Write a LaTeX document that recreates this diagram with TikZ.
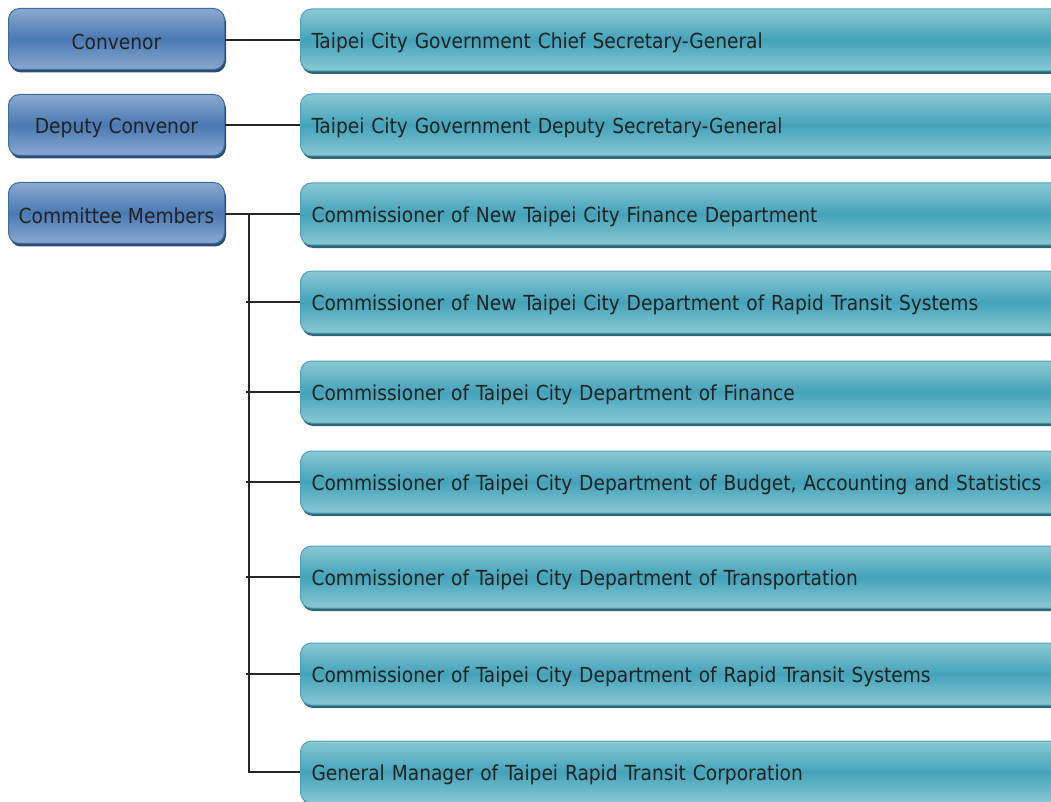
\documentclass[tikz,border=0pt]{standalone}
\usepackage{fontspec}
\setmainfont{DejaVu Sans Condensed}
\usetikzlibrary{shadows}
\definecolor{blueTop}{HTML}{8BA9D0}
\definecolor{blueMid}{HTML}{4A79B3}
\definecolor{blueBorder}{HTML}{3D6CA6}
\definecolor{blueShadow}{HTML}{2C4C74}
\definecolor{tealTop}{HTML}{8AC8D5}
\definecolor{tealMid}{HTML}{44A3B9}
\definecolor{tealBorder}{HTML}{4DA3B7}
\definecolor{tealShadow}{HTML}{2F6676}
\definecolor{txt}{HTML}{222222}
\tikzset{
  leftbox/.style={rounded corners=11pt, draw=blueBorder, line width=1pt,
    top color=blueTop, bottom color=blueTop, middle color=blueMid,
    minimum width=216pt, minimum height=61pt, inner sep=0pt,
    font=\fontsize{20.7}{22}\selectfont, text=txt,
    drop shadow={shadow xshift=1.5pt, shadow yshift=-3pt, fill=blueShadow, opacity=1}},
  rightbox/.style={rounded corners=11pt, draw=tealBorder, line width=1pt,
    top color=tealTop, bottom color=tealTop, middle color=tealMid,
    text width=760pt, inner xsep=11pt, inner ysep=0pt, align=left,
    minimum height=62pt, anchor=west,
    font=\fontsize{20.7}{22}\selectfont, text=txt,
    drop shadow={shadow xshift=1.5pt, shadow yshift=-3pt, fill=tealShadow, opacity=1}},
  link/.style={draw=black!85, line width=1.2pt}
}
\newcommand{\dn}[1]{\raisebox{-3pt}[\height][\depth]{#1}}
\begin{document}
\begin{tikzpicture}[x=1pt,y=-1pt]
\useasboundingbox (0,0) rectangle (1051,802);
\node[leftbox] (conv) at (116.5,39) {\dn{Convenor}};
\node[leftbox] (dep) at (116.5,125) {\dn{Deputy Convenor}};
\node[leftbox] (cm) at (116.5,213) {\dn{Committee Members}};
\node[rightbox] (r1) at (300,40) {\dn{Taipei City Government Chief Secretary-General}};
\node[rightbox] (r2) at (300,125) {\dn{Taipei City Government Deputy Secretary-General}};
\node[rightbox] (r3) at (300,214) {\dn{Commissioner of New Taipei City Finance Department}};
\node[rightbox] (r4) at (300,302) {\dn{Commissioner of New Taipei City Department of Rapid Transit Systems}};
\node[rightbox] (r5) at (300,392) {\dn{Commissioner of Taipei City Department of Finance}};
\node[rightbox] (r6) at (300,482) {\dn{Commissioner of Taipei City Department of Budget, Accounting and Statistics}};
\node[rightbox] (r7) at (300,577) {\dn{Commissioner of Taipei City Department of Transportation}};
\node[rightbox] (r8) at (300,674) {\dn{Commissioner of Taipei City Department of Rapid Transit Systems}};
\node[rightbox] (r9) at (300,772) {\dn{General Manager of Taipei Rapid Transit Corporation}};
\coordinate (j) at (249,214);
\draw[link] (conv.east |- r1.west) -- (r1.west);
\draw[link] (dep.east |- r2.west) -- (r2.west);
\draw[link] (cm.east |- r3.west) -- (r3.west);
\draw[link] (j) |- (r9.west);
\foreach \k in {r4,r5,r6,r7,r8}{
  \draw[link] ([xshift=-3pt]j |- \k.west) -- (\k.west);
}
\end{tikzpicture}
\end{document}
